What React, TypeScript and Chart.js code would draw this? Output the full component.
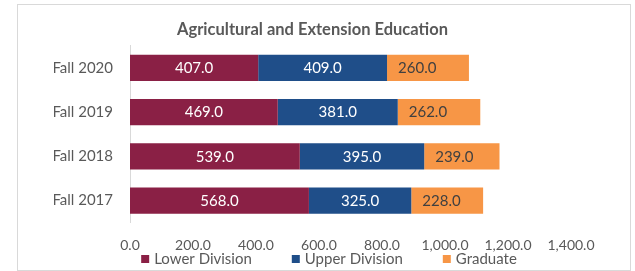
import React, { useEffect, useRef } from "react";
import { Chart, registerables } from "chart.js";

Chart.register(...registerables);

const categories = ["Fall 2020", "Fall 2019", "Fall 2018", "Fall 2017"];
const lowerDivision = [407, 469, 539, 568];
const upperDivision = [409, 381, 395, 325];
const graduate = [260, 262, 239, 228];
const seriesNames = ["Lower Division", "Upper Division", "Graduate"];
const seriesColors = ["#8A2045", "#1F4E89", "#F79646"];
const xMin = 0;
const xMax = 1400;
const xStep = 200;

const FONT = "Lato, 'DejaVu Sans', sans-serif";
const TEXT_GRAY = "#595959";

const fmt = (v: number) =>
  v.toLocaleString("en-US", { minimumFractionDigits: 1, maximumFractionDigits: 1 });

const dataLabelPlugin = {
  id: "dataLabels",
  afterDatasetsDraw(chart: any) {
    const ctx = chart.ctx;
    ctx.save();
    ctx.font = `15px ${FONT}`;
    ctx.textBaseline = "middle";
    chart.data.datasets.forEach((ds: any, di: number) => {
      const meta = chart.getDatasetMeta(di);
      meta.data.forEach((el: any, i: number) => {
        const v = ds.data[i];
        const props = el.getProps(["x", "y", "base"], true);
        if (di === 2) {
          ctx.fillStyle = "#404040";
          ctx.textAlign = "left";
          ctx.fillText(fmt(v), Math.min(props.base, props.x) + 11, props.y + 0.5);
        } else {
          ctx.fillStyle = "#FFFFFF";
          ctx.textAlign = "center";
          ctx.fillText(fmt(v), (props.base + props.x) / 2, props.y + 0.5);
        }
      });
    });
    ctx.restore();
  },
};

const legendPlugin = {
  id: "customLegend",
  afterDraw(chart: any) {
    const ctx = chart.ctx;
    ctx.save();
    ctx.font = `15px ${FONT}`;
    ctx.textBaseline = "middle";
    ctx.textAlign = "left";
    const box = 8;
    const boxGap = 5;
    const itemGap = 40;
    const items = chart.data.datasets.map((ds: any) => ({
      text: ds.label,
      color: ds.backgroundColor,
      w: ctx.measureText(ds.label).width,
    }));
    const total =
      items.reduce((s: number, it: any) => s + box + boxGap + it.w, 0) +
      itemGap * (items.length - 1);
    let x = chart.width / 2 + 5 - total / 2;
    const y = chart.height - 11;
    items.forEach((it: any) => {
      ctx.fillStyle = it.color;
      ctx.fillRect(x, y - box / 2, box, box);
      ctx.fillStyle = TEXT_GRAY;
      ctx.fillText(it.text, x + box + boxGap, y + 0.5);
      x += box + boxGap + it.w + itemGap;
    });
    ctx.restore();
  },
};

export default function App() {
  const ref = useRef<HTMLCanvasElement | null>(null);
  useEffect(() => {
    if (!ref.current) return;
    const values = [lowerDivision, upperDivision, graduate];
    const chart = new Chart(ref.current, {
      type: "bar",
      data: {
        labels: categories,
        datasets: values.map((d, i) => ({
          label: seriesNames[i],
          data: d,
          backgroundColor: seriesColors[i],
          borderWidth: 0,
          barPercentage: 0.59,
          categoryPercentage: 1.0,
        })),
      },
      options: {
        indexAxis: "y",
        animation: false,
        responsive: false,
        layout: { padding: { left: 36, right: 59, top: 0, bottom: 2.5 } },
        plugins: {
          legend: { display: false },
          tooltip: { enabled: false },
          title: {
            display: true,
            text: "Agricultural and Extension Education",
            color: TEXT_GRAY,
            font: { family: FONT, size: 16.5, weight: "bold" },
            padding: { top: 15, bottom: 6 },
          },
        },
        scales: {
          x: {
            stacked: true,
            min: xMin,
            max: xMax,
            grid: { display: false, drawTicks: false },
            border: { display: false },
            ticks: {
              stepSize: xStep,
              padding: 14,
              color: TEXT_GRAY,
              font: { family: FONT, size: 14 },
              callback: (v: any) => fmt(Number(v)),
              maxRotation: 0,
            },
          },
          y: {
            stacked: true,
            grid: { display: false, drawTicks: false },
            border: { display: true, color: "#D9D9D9", width: 1 },
            ticks: {
              padding: 17,
              color: TEXT_GRAY,
              font: { family: FONT, size: 15 },
            },
            afterFit: (scale: any) => {
              scale.width = 76;
            },
          },
        },
      },
      plugins: [dataLabelPlugin, legendPlugin],
    });
    return () => chart.destroy();
  }, []);
  return (
    <div
      style={{
        position: "absolute",
        left: 17,
        top: 4,
        width: 614,
        height: 267,
        border: "1px solid #D9D9D9",
        boxSizing: "border-box",
        background: "#fff",
      }}
    >
      <canvas ref={ref} width={612} height={265} style={{ display: "block" }} />
    </div>
  );
}
